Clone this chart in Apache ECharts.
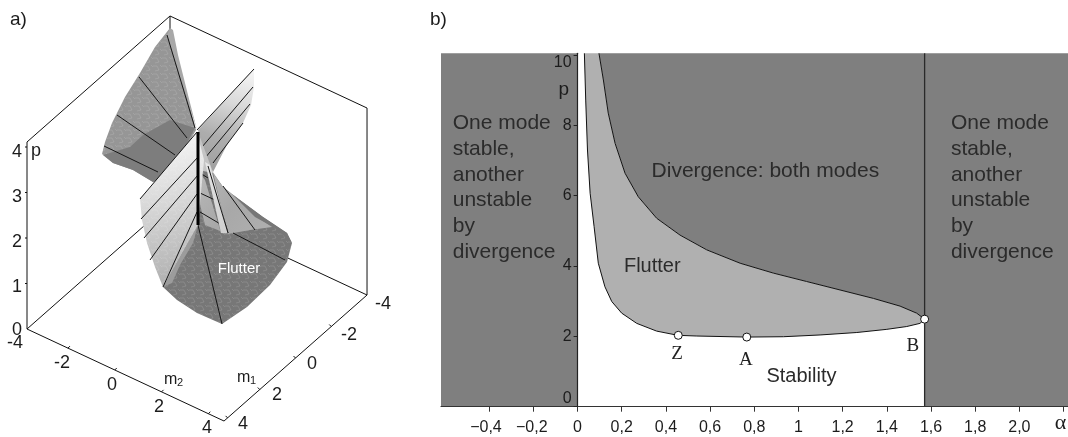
<!DOCTYPE html>
<html><head><meta charset="utf-8">
<style>html,body{margin:0;padding:0;background:#fff}#c{width:1068px;height:437px}</style>
<script src="https://cdn.jsdelivr.net/npm/echarts@6/dist/echarts.min.js"></script>
</head><body><div id="c"></div>
<script>
// ---------- panel b data: (alpha, p) ----------
const xTicks = [-0.4,-0.2,0,0.2,0.4,0.6,0.8,1,1.2,1.4,1.6,1.8,2.0,2.2];
const xTickLabels = ['−0,4\u2009\u2009','−0,2\u2009','0','0,2','0,4','0,6','0,8','1','1,2','1,4','1,6','1,8','2,0','α'];
const yTicks = [0,2,4,6,8,10];
const flutterLower = [[0.031,10.05],[0.037,8.72],[0.045,7.30],[0.057,6.07],[0.075,5.12],[0.094,4.08],[0.124,3.41],[0.155,2.99],[0.20,2.66],[0.268,2.37],[0.358,2.15],[0.454,2.03],[0.54,2.01],[0.766,1.98],[0.932,1.99],[1.098,2.04],[1.264,2.11],[1.40,2.20],[1.49,2.28],[1.55,2.37],[1.571,2.49]];
const flutterUpper = [[0.097,10.05],[0.117,9.29],[0.139,8.35],[0.17,7.49],[0.215,6.64],[0.275,5.97],[0.358,5.36],[0.464,4.88],[0.585,4.46],[0.736,4.08],[0.886,3.80],[1.037,3.56],[1.188,3.32],[1.339,3.08],[1.46,2.86],[1.535,2.66],[1.571,2.49]];
const alphaMin = -0.618, alphaMax = 2.22, alphaB = 1.571, pTop = 10.05;
const markedPoints = [[0.456,2.03],[0.766,1.98],[1.571,2.49]];
const panelBTexts = [
  ['One mode',-0.565,8.05],['stable,',-0.565,7.33],['another',-0.565,6.59],['unstable',-0.565,5.87],['by',-0.565,5.13],['divergence',-0.565,4.39],
  ['One mode',1.69,8.05],['stable,',1.69,7.33],['another',1.69,6.59],['unstable',1.69,5.87],['by',1.69,5.13],['divergence',1.69,4.39],
  ['Divergence: both modes',0.335,6.7],['Flutter',0.21,4.0],['Stability',0.855,0.87]
];
const panelBSerif = [['Z',0.45,1.5],['A',0.762,1.32],['B',1.518,1.72]];

// ---------- panel a data: the 3-D box in (m1, m2, p) ----------
const m1Ticks = [-2,0,2,3.8];
const m2Ticks = [-2,0,2,4];
const pTicks = [1,2,3,4];
const pMax = 4.11, m2Lo = -3.75, m2Hi = 4.67;
const boxHidden = [[[4,m2Lo,0],[-4,m2Lo,0]],[[-4,m2Lo,0],[-4,m2Hi,0]],[[-4,m2Lo,pMax],[-4,m2Lo,0]]];
const boxFront = [[[4,m2Lo,pMax],[-4,m2Lo,pMax]],[[-4,m2Lo,pMax],[-4,m2Hi,pMax]],[[-4,m2Hi,pMax],[-4,m2Hi,0]],[[4,m2Lo,pMax],[4,m2Lo,0]],[[4,m2Lo,0],[4,m2Hi,0]],[[4,m2Hi,0],[-4,m2Hi,0]]];
function project(m1,m2,p){ return [27+(m2-m2Lo)*23.4+(4-m1)*17.875, 329+(m2-m2Lo)*10.93-(4-m1)*15.75-p*45.5]; }

// panel a surface in its view plane
const backSheet = [[170,28],[155,47],[140,73],[125,97],[112,123],[105,142],[102,154],[113,163],[133,170],[153,182],[170,175],[196,130]];
const backStrip = [[170,28],[173,30],[178,55],[188,95],[197,130],[167,35]];
const backShade = [[103,155],[130,147],[143,135],[170,120],[195,128],[170,175],[153,182],[133,170],[113,163]];
const rightWing = [[254,68],[254,87],[251,105],[243,123],[228,143],[213,172],[204,155],[198,130]];
const centerGap = [[198,132],[213,172],[223,187],[205,186],[198,175]];
const lowerSheet = [[213,173],[223,187],[237,198],[263,217],[287,233],[292,243],[287,262],[270,285],[247,307],[222,324],[197,313],[177,300],[163,287],[198,223],[198,170]];
const lowerPale = [[213,173],[223,187],[237,198],[257,217],[272,227],[250,230],[228,234],[221,233],[205,180],[199,172],[199,200],[205,225],[228,234]];
const lowerEdge = [[232,194],[263,217],[287,233],[292,243],[275,228],[255,217]];
const lowerBlend = [[198,225],[193,243],[180,265],[172,283],[163,287]];
const leftWing = [[197,132],[140,199],[142,220],[147,243],[155,267],[163,287],[198,225],[204,160]];
const paleStrip = [[205,162],[210,165],[228,233],[221,233]];
const backRulings = [[[167,35],[195,128]],[[139,77],[187,138]],[[117,115],[175,155]],[[104,146],[158,172]]];
const wingRulings = [[[254,69],[197,130]],[[253,87],[202,147]],[[250,104],[205,158]],[[243,123],[213,163]]];
const lowerRulings = [[[200,173],[208,178]],[[200,193],[215,200]],[[200,212],[222,225]],[[233,233],[285,260]],[[223,186],[255,230]],[[208,166],[228,233]],[[198,225],[222,324]]];
const leftRulings = [[[197,132],[140,199]],[[198,157],[141,219]],[[198,175],[144,238]],[[197,194],[150,260]],[[197,212],[163,287]]];
const selfIntersection = [[198,132],[198,225]];
const panelATexts = [
  ['a)',10,20,19,'left'],['b)',430,20,19,'left'],['p',36,151,18,'center'],
  ['4',17,152,18,'center'],['3',17,197,18,'center'],['2',17,242,18,'center'],['1',17,287,18,'center'],['0',17,330,18,'center'],
  ['-4',15,343,18,'center'],['-2',62,363,18,'center'],['0',112,385,18,'center'],['2',159,407,18,'center'],['4',207,428,18,'center'],
  ['-4',383,304,18,'center'],['-2',349,335,18,'center'],['0',312,364,18,'center'],['2',277,395,18,'center'],['4',243,424,18,'center']
];
const flutterLabelA = ['Flutter',239,269];
const subscriptLabels = [['m','2',164,380],['m','1',237,378]];

// ---------- drawing ----------
function speckle(){
  const c=document.createElement('canvas');c.width=9;c.height=8;
  const g=c.getContext('2d');g.strokeStyle='rgba(255,255,255,0.13)';g.lineWidth=1;
  [[0,2,4,2],[4,2,6,6],[6,6,2,7],[7,1,9,3]].forEach(s=>{g.beginPath();g.moveTo(s[0],s[1]);g.lineTo(s[2],s[3]);g.stroke();});
  return {image:c,repeat:'repeat'};
}
const tex = speckle();
const lg = (x,y,x2,y2,stops)=>new echarts.graphic.LinearGradient(x,y,x2,y2,stops.map((c,i)=>({offset:i/(stops.length-1),color:c})));
const layers = [
  {pts:backSheet,fill:'#969696',tex:1},
  {pts:backStrip,fill:'#a8a8a8'},
  {pts:backShade,fill:'#7d7d7d'},
  {pts:rightWing,fill:lg(0.8,0,0.2,1,['#f6f6f6','#d9d9d9','#adadad','#a0a0a0'])},
  {pts:centerGap,fill:'#c4c4c4'},
  {pts:lowerSheet,fill:'#777777',tex:1},
  {pts:lowerPale,fill:lg(0,0,1,1,['#b8b8b8','#a8a8a8','#b0b0b0'])},
  {pts:lowerEdge,fill:'#777777'},
  {pts:lowerBlend,fill:'#9c9c9c'},
  {pts:leftWing,fill:lg(0.2,0.1,0.7,1,['#f2f2f2','#dcdcdc','#c4c4c4','#adadad']),tex:1},
  {pts:paleStrip,fill:lg(0,0,0,1,['#e6e6e6','#cfcfcf'])}
];
const polyOf = (pts,api)=>pts.map(p=>api.coord(p));
function lineEl(a,b,api,w,col){const A=api.coord(a),B=api.coord(b);return {type:'line',shape:{x1:A[0],y1:A[1],x2:B[0],y2:B[1]},style:{stroke:col||'#161616',lineWidth:w||1}};}
function renderPanelA(params,api){
  const ch=[];
  boxHidden.concat(boxFront).forEach(e=>ch.push(lineEl(project(...e[0]),project(...e[1]),api,1,'#111')));
  m2Ticks.forEach(v=>{const a=project(4,v,0);ch.push(lineEl(a,[a[0]+2,a[1]-2],api,1,'#111'));});
  m1Ticks.forEach(v=>{const a=project(v,m2Hi,0);ch.push(lineEl(a,[a[0]-2,a[1]-2],api,1,'#111'));});
  pTicks.forEach(v=>{const a=project(4,m2Lo,v);ch.push(lineEl(a,[a[0]-2,a[1]],api,1,'#111'));});
  const draw=l=>{const pts=polyOf(l.pts,api);ch.push({type:'polygon',shape:{points:pts},style:{fill:l.fill}});
    if(l.tex)ch.push({type:'polygon',shape:{points:pts},style:{fill:tex}});};
  const rul=r=>r.forEach(s=>ch.push(lineEl(s[0],s[1],api,1)));
  draw(layers[0]);draw(layers[1]);draw(layers[2]);rul(backRulings);
  draw(layers[3]);rul(wingRulings);draw(layers[4]);
  draw(layers[5]);draw(layers[6]);draw(layers[7]);draw(layers[8]);rul(lowerRulings);
  draw(layers[9]);rul(leftRulings);draw(layers[10]);
  ch.push(lineEl(lowerRulings[5][0],lowerRulings[5][1],api,1));
  ch.push(lineEl(selfIntersection[0],selfIntersection[1],api,3,'#000'));
  return {type:'group',children:ch};
}
function textEl(t,pos,font,size,col,align,weight){return {type:'text',x:pos[0],y:pos[1],style:{text:t,font:`${size}px ${font}`,fill:col,textAlign:align||'left',textVerticalAlign:'middle'}};}
const SANS='"Liberation Sans", Arial, sans-serif', SERIF='"Liberation Serif", serif';
function renderPanelAText(params,api){
  const ch=panelATexts.map(t=>textEl(t[0],api.coord([t[1],t[2]]),SANS,t[3],'#1c1c1c',t[4]));
  ch.push(textEl(flutterLabelA[0],api.coord([flutterLabelA[1],flutterLabelA[2]]),SANS,15,'#ffffff','center'));
  subscriptLabels.forEach(s=>{const p=api.coord([s[2],s[3]]);ch.push(textEl(s[0],p,SANS,16,'#1c1c1c'));ch.push(textEl(s[1],[p[0]+13,p[1]+3],SANS,11,'#1c1c1c'));});
  return {type:'group',children:ch};
}
function renderRegions(params,api){
  const P=a=>a.map(p=>api.coord(p));
  const ch=[];
  ch.push({type:'polygon',shape:{points:P([[alphaMin,0],[0,0],[0,pTop],[alphaMin,pTop]])},style:{fill:'#7f7f7f'}});
  ch.push({type:'polygon',shape:{points:P([[alphaB,0],[alphaMax,0],[alphaMax,pTop],[alphaB,pTop]])},style:{fill:'#7f7f7f'}});
  ch.push({type:'polygon',shape:{points:P(flutterUpper.concat([[alphaB,pTop]]))},style:{fill:'#7f7f7f'}});
  ch.push({type:'polygon',shape:{points:P(flutterLower.concat(flutterUpper.slice().reverse()))},style:{fill:'#b0b0b0'}});
  ch.push({type:'polyline',shape:{points:P(flutterLower)},style:{fill:'none',stroke:'#111',lineWidth:1}});
  ch.push({type:'polyline',shape:{points:P(flutterUpper)},style:{fill:'none',stroke:'#111',lineWidth:1}});
  ch.push({type:'polyline',shape:{points:P([[alphaB,0],[alphaB,pTop]])},style:{fill:'none',stroke:'#2a2a2a',lineWidth:1.3}});
  panelBTexts.forEach(t=>ch.push(textEl(t[0],api.coord([t[1],t[2]]),SANS,/Flutter|Stability/.test(t[0])?20:21,'#2b2b2b')));
  panelBSerif.forEach(t=>ch.push(textEl(t[0],api.coord([t[1],t[2]]),SERIF,19,'#222','center')));
  ch.push(textEl('p',api.coord([-0.062,9.0]),SANS,19,'#1c1c1c','center'));
  return {type:'group',children:ch};
}
const chart=echarts.init(document.getElementById('c'),null,{renderer:'canvas'});
chart.setOption({
  animation:false,backgroundColor:'#fff',
  grid:[{left:441,top:53.3,width:627,height:353.4,outerBoundsMode:'none'},{left:0,top:0,width:420,height:437,outerBoundsMode:'none'}],
  xAxis:[
    {type:'value',gridIndex:0,min:alphaMin,max:alphaMax,splitLine:{show:false},z:10,
     axisLine:{show:true,onZero:false,lineStyle:{color:'#333',width:1.2}},
     axisTick:{show:true,length:5,inside:false,customValues:xTicks,lineStyle:{color:'#333'}},
     axisLabel:{show:true,margin:13,fontSize:16,fontFamily:SANS,color:'#1c1c1c',customValues:xTicks,
       formatter:(v)=>{const i=xTicks.findIndex(t=>Math.abs(t-v)<1e-6);const s=i<0?'':xTickLabels[i];return s==='α'?'{a|α}':s;},
       rich:{a:{fontFamily:SERIF,fontSize:22,color:'#1c1c1c',lineHeight:8,padding:[0,6,0,0]}}}},
    {type:'value',gridIndex:1,min:0,max:420,show:false}
  ],
  yAxis:[
    {type:'value',gridIndex:0,min:0,max:pTop,splitLine:{show:false},z:10,offset:-136.6,
     axisLine:{show:true,onZero:false,lineStyle:{color:'#222',width:1.2}},
     axisTick:{show:true,length:4,customValues:yTicks,lineStyle:{color:'#222'}},
     axisLabel:{show:true,margin:6,fontSize:16,fontFamily:SANS,color:'#1c1c1c',customValues:yTicks,
       formatter:v=>String(v),verticalAlignMinLabel:'bottom',verticalAlignMaxLabel:'top'}},
    {type:'value',gridIndex:1,min:0,max:437,inverse:true,show:false}
  ],
  series:[
    {type:'custom',xAxisIndex:1,yAxisIndex:1,silent:true,clip:false,data:[[0,0]],renderItem:renderPanelA,z:2},
    {type:'custom',xAxisIndex:1,yAxisIndex:1,silent:true,clip:false,data:[[0,0]],renderItem:renderPanelAText,z:5},
    {type:'custom',xAxisIndex:0,yAxisIndex:0,silent:true,clip:false,data:[[0,0]],renderItem:renderRegions,z:2},
    {type:'scatter',xAxisIndex:0,yAxisIndex:0,silent:true,data:markedPoints,symbolSize:8,z:6,
     itemStyle:{color:'#fff',borderColor:'#111',borderWidth:1,opacity:1}}
  ]
});
</script></body></html>
